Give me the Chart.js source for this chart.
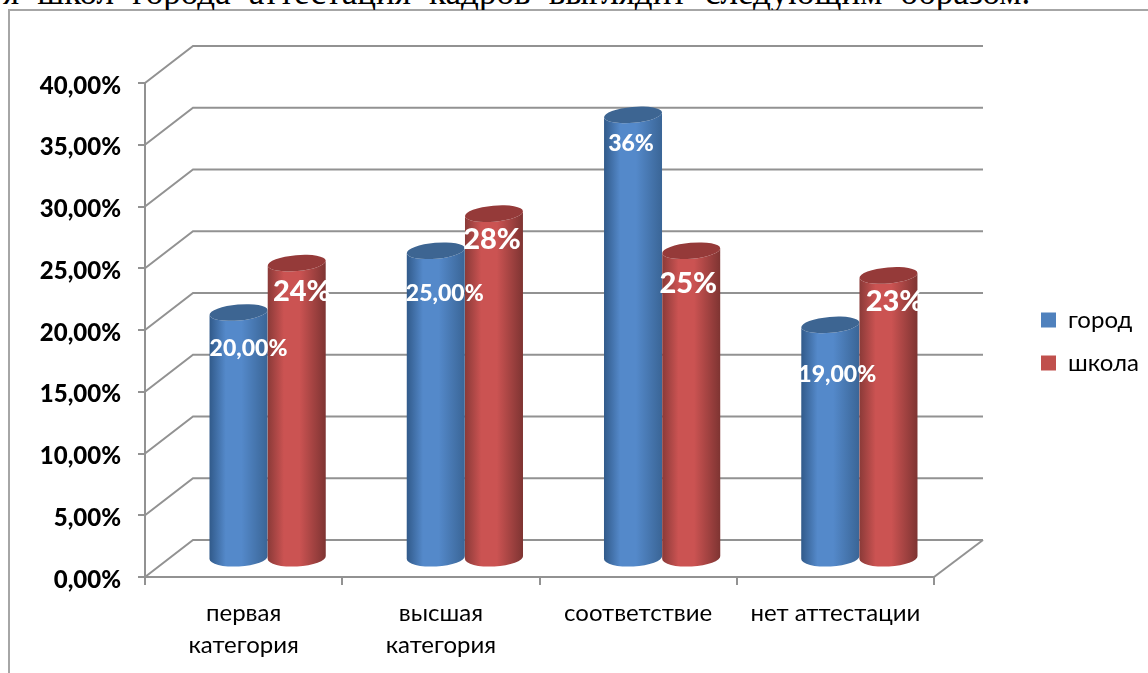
<!DOCTYPE html>
<html>
<head>
<meta charset="utf-8">
<script src="https://cdn.jsdelivr.net/npm/chart.js@4"></script>
<style>
    html, body { margin: 0; padding: 0; background: #fff; overflow: hidden; }
    #wrap { position: relative; width: 1148px; height: 673px; }
    #frame { position: absolute; left: 8px; top: 9px; width: 1140px; height: 664px; border-left: 2px solid #a6a6a6; border-top: 2px solid #a6a6a6; box-sizing: border-box; }
    #caption { position: absolute; left: 0; top: 0; width: 1148px; height: 10px; overflow: hidden; }
    #caption span { position: absolute; left: 3px; top: -27px; font: 35px "Liberation Serif", serif; word-spacing: 9.5px; color: #000; white-space: nowrap; }
    canvas { position: absolute; left: 0; top: 0; }
</style>
</head>
<body>
<div id="wrap">
    <div id="frame"></div>
    <div id="caption"><span>я школ города аттестация кадров выглядит следующим образом.</span></div>
    <canvas id="chart" width="1148" height="673"></canvas>
</div>
<script>
const categories = [['первая', 'категория'], ['высшая', 'категория'], 'соответствие', 'нет аттестации'];
const cityValues   = [20, 25, 36, 19];
const schoolValues = [24, 28, 25, 23];
const cityLabels   = ['20,00%', '25,00%', '36%', '19,00%'];
const schoolLabels = ['24%', '28%', '25%', '23%'];

// depth of the 3d box in pixels
const DEPTH_X = 48;
const DEPTH_Y = 37;
const GRID = '#929292';

// label nudges from the top of each cylinder
const cityNudge   = [[10, 37], [9, 44], [-2, 30], [7, 51]];
const schoolNudge = [[5, 30], [-2, 27], [-3, 34], [6, 27]];

const cylinderColors = [
    { edgeL: '#315a8a', mid: '#5489ca', edgeR: '#3a6596', cap: '#3d6592' },
    { edgeL: '#8a3a38', mid: '#cb5352', edgeR: '#7e3432', cap: '#953a39' },
];

function drawCylinder(ctx, x, top, bottom, width, c) {
    const rx = width / 2;
    const grad = ctx.createLinearGradient(x - rx, 0, x + rx, 0);
    grad.addColorStop(0, c.edgeL);
    grad.addColorStop(0.28, c.mid);
    grad.addColorStop(0.55, c.mid);
    grad.addColorStop(1, c.edgeR);

    ctx.beginPath();
    ctx.ellipse(x, bottom, rx, 9, -3 * Math.PI / 180, 0, Math.PI);
    ctx.ellipse(x, top, rx, 8, -5 * Math.PI / 180, Math.PI, 0, true);
    ctx.closePath();
    ctx.fillStyle = grad;
    ctx.fill();

    ctx.beginPath();
    ctx.ellipse(x, top, rx, 8, -5 * Math.PI / 180, 0, Math.PI * 2);
    ctx.fillStyle = c.cap;
    ctx.fill();
}

const box3d = {
    id: 'box3d',
    afterLayout(chart) {
        // legend sits well right of the plot, the box needs the room for its depth
        const lg = chart.legend;
        const pad = lg.options.labels.padding;
        lg.left = 1041 - pad;
        lg.right = 1148;
        lg.top = 322 - pad - 14;
        lg.bottom = 673;

        // Calibri sat a little lower on its ticks than Lato does
        const y = chart.scales.y;
        y._labelItems = y._computeLabelItems(chart.chartArea);
        y._labelItems.forEach(item => { item.options.translation[1] += 3; });
    },
    beforeDatasetsDraw(chart) {
        const { ctx, scales: { x, y }, chartArea: a } = chart;
        ctx.save();
        ctx.strokeStyle = GRID;
        ctx.lineWidth = 2;
        y.ticks.forEach(t => {
            const py = y.getPixelForValue(t.value);
            ctx.beginPath();
            ctx.moveTo(a.left, py);
            ctx.lineTo(a.left + DEPTH_X, py - DEPTH_Y);
            ctx.lineTo(a.right + DEPTH_X + 1, py - DEPTH_Y);
            ctx.stroke();
        });
        ctx.beginPath();
        ctx.moveTo(a.right, a.bottom);
        ctx.lineTo(a.right + DEPTH_X + 1, a.bottom - DEPTH_Y);
        ctx.stroke();

        // bars stand half way into the box
        const dx = DEPTH_X / 2;
        const dy = DEPTH_Y / 2;
        chart.data.datasets.forEach((ds, i) => {
            chart.getDatasetMeta(i).data.forEach(bar => {
                drawCylinder(ctx, bar.x + dx, bar.y - dy + 1, bar.base - dy, bar.width, cylinderColors[i]);
            });
        });
        chart.data.datasets.forEach((ds, i) => {
            const nudge = i === 0 ? cityNudge : schoolNudge;
            const texts = i === 0 ? cityLabels : schoolLabels;
            ctx.fillStyle = '#fff';
            ctx.textAlign = 'center';
            ctx.textBaseline = 'middle';
            ctx.font = i === 0 ? '900 23px Lato' : '900 29px Lato';
            chart.getDatasetMeta(i).data.forEach((bar, k) => {
                ctx.fillText(texts[k], bar.x + dx + nudge[k][0], bar.y - dy + nudge[k][1]);
            });
        });
        ctx.restore();
        return false;
    },
};

new Chart(document.getElementById('chart'), {
    type: 'bar',
    plugins: [box3d],
    data: {
        labels: categories,
        datasets: [
            { label: 'город', data: cityValues, backgroundColor: '#4f81bd', categoryPercentage: 0.59, barPercentage: 1 },
            { label: 'школа', data: schoolValues, backgroundColor: '#c0504d', categoryPercentage: 0.59, barPercentage: 1 },
        ],
    },
    options: {
        responsive: false,
        animation: false,
        layout: { padding: { top: 83, right: 114, bottom: 0, left: 0 } },
        scales: {
            y: {
                min: 0,
                max: 40,
                afterFit: s => { s.width = 145; },
                ticks: {
                    stepSize: 5,
                    padding: 17,
                    color: '#000',
                    font: { family: 'Lato', size: 24, weight: '900' },
                    callback: v => v.toFixed(2).replace('.', ',') + '%',
                },
                grid: { drawOnChartArea: false, tickLength: 7, color: GRID, lineWidth: 2 },
                border: { color: GRID, width: 2 },
            },
            x: {
                afterFit: s => { s.height = 96; },
                ticks: {
                    padding: 12,
                    color: '#000',
                    maxRotation: 0,
                    font: { family: 'Lato', size: 24, lineHeight: 1.33 },
                },
                grid: { drawOnChartArea: false, tickLength: 8, color: GRID, lineWidth: 2 },
                border: { color: GRID, width: 2 },
            },
        },
        plugins: {
            tooltip: { enabled: false },
            legend: {
                position: 'right',
                align: 'start',
                maxWidth: 100,
                onClick: null,
                labels: {
                    boxWidth: 15,
                    boxHeight: 15,
                    padding: 19,
                    color: '#000',
                    font: { family: 'Lato', size: 24 },
                },
            },
        },
    },
});
</script>
</body>
</html>
